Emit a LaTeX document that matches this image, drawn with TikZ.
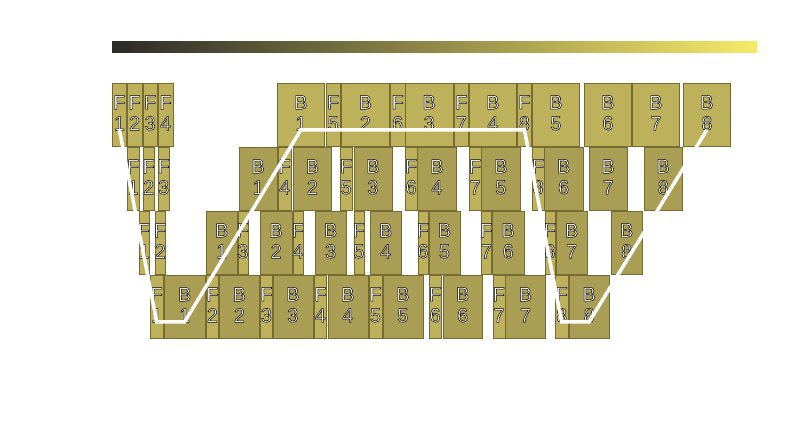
\documentclass[tikz,border=0pt]{standalone}
\usepackage{tikz}
\font\slotfnt="Liberation Sans:embolden=2.5" at 20pt
\definecolor{lightol}{HTML}{BDB15B}
\definecolor{darkol}{HTML}{A99E53}
\definecolor{edgeol}{HTML}{766C33}
\definecolor{bardark}{HTML}{2A2A28}
\definecolor{barmid}{HTML}{8C8040}
\definecolor{barlight}{HTML}{F7EA6A}
\colorlet{fillF}{lightol}
\colorlet{fillB}{darkol}
\tikzset{
  slot/.style={draw=edgeol, line width=0.8pt, anchor=north west, inner sep=0pt, minimum height=63},
  slotlabel/.style={inner sep=0pt, align=center, yshift=2pt, font={\slotfnt\baselineskip=21pt},
    execute at begin node={\special{pdf:bcolor [1 1 1] [0 0 0]}},
    execute at end node={\special{pdf:ecolor}}},
  trail/.style={draw=white, line width=3.5pt}
}

\begin{document}
\begin{tikzpicture}[x=1pt, y=-1pt]
  \fill[white] (0,0) rectangle (800,430);
  \useasboundingbox (0,0) rectangle (800,430);
  \shade[left color=bardark, middle color=barmid, right color=barlight] (112,42) rectangle (757,53);

  \foreach \t/\i/\x/\w in {F/1/112/14, F/2/127/14.5, F/3/142.5/14.5, F/4/158/14.5, B/1/277/47, F/5/325.5/14.5,
      B/2/341/48, F/6/390/14.5, B/3/405/47.5, F/7/454/14, B/4/469/47, F/8/517/14, B/5/532/47, B/6/584/47,
      B/7/632/47, B/8/683/47}
    \node[slot, fill=lightol, minimum width=\w] (r1\t\i) at (\x,83) {};
  \foreach \t/\i/\x/\w in {F/1/127/11.5, F/2/142.5/11.5, F/3/157.5/11.5, B/1/238.5/38.5, F/4/278/12.5,
      B/2/293/38, F/5/340/11.5, B/3/353.5/38, F/6/405/11.5, B/4/417/39, F/7/469/11.5, B/5/481/39,
      F/8/532/11.5, B/6/544/38.5, B/7/588.5/38.5, B/8/643.5/38.5}
    \node[slot, fill=fill\t, minimum width=\w] (r2\t\i) at (\x,147) {};
  \foreach \t/\i/\x/\w in {F/1/138.5/10, F/2/155/9.5, B/1/205.5/31.5, F/3/237.5/10, B/2/260/31.5,
      F/4/292.5/10, B/3/314.5/31.5, F/5/353.5/10, B/4/369.5/31.5, F/6/417.5/10, B/5/428.5/31,
      F/7/481/10, B/6/492/31.5, F/8/544.5/10, B/7/555.5/31.5, B/8/610.5/31.5}
    \node[slot, fill=fill\t, minimum width=\w] (r3\t\i) at (\x,211) {};
  \foreach \t/\i/\x/\w in {F/1/150/12.5, B/1/163.5/41.5, F/2/206/12, B/2/219/40, F/3/260/12,
      B/3/272.5/40, F/4/314/12, B/4/327.5/40, F/5/368.5/13, B/5/382.5/40, F/6/428.5/12.5,
      B/6/442.5/39.5, F/7/492.5/12, B/7/505/40, F/8/555/12.5, B/8/569/39.5}
    \node[slot, fill=fill\t, minimum width=\w] (r4\t\i) at (\x,275) {};

  \foreach \r in {1,...,4}
    \foreach \t in {F,B}
      \foreach \i in {1,...,8}
        \node[slotlabel] at (r\r\t\i) {\t\\\i};

  \draw[trail] ([yshift=17pt]r1F1.south) -- ([yshift=17pt]r4F1.south) -- ([yshift=17pt]r4B1.south)
    -- ([yshift=17pt]r1B1.south) -- ([yshift=17pt]r1F8.south) -- ([yshift=17pt]r4F8.south)
    -- ([yshift=17pt]r4B8.south) -- ([yshift=17pt]r1B8.south);
\end{tikzpicture}
\end{document}
